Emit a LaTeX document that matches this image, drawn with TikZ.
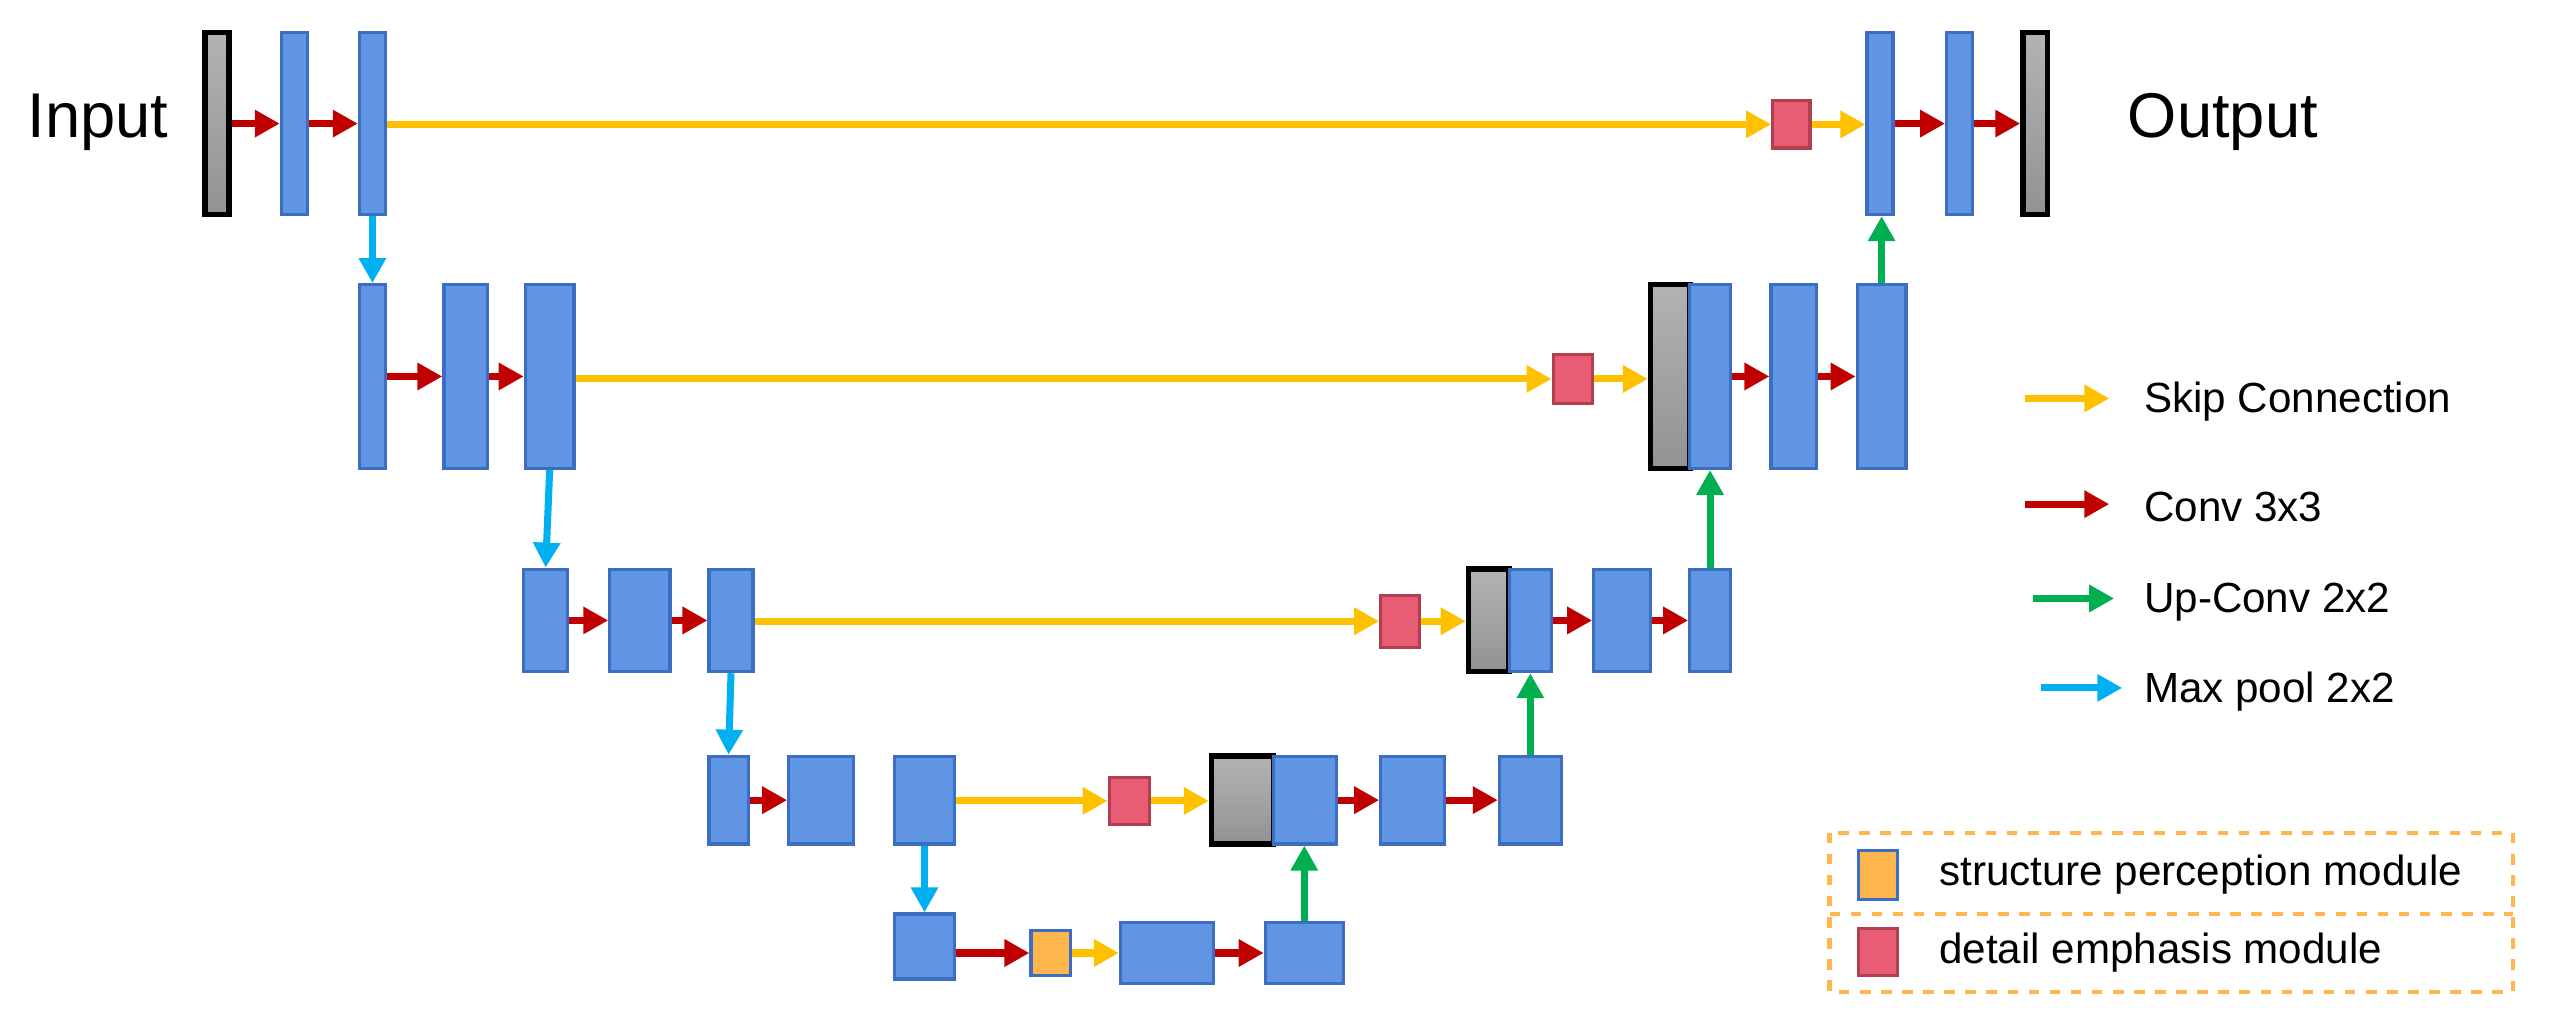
\documentclass[tikz,border=0pt]{standalone}
\usepackage{fontspec}
\setmainfont{Liberation Sans}
\usetikzlibrary{fit,arrows.meta}
\definecolor{bl}{HTML}{5F95E3}
\definecolor{blb}{HTML}{3B6EC2}
\definecolor{pk}{HTML}{E85C74}
\definecolor{pkb}{HTML}{B0404F}
\definecolor{og}{HTML}{FFB74D}
\definecolor{ylw}{HTML}{FFC000}
\definecolor{rd}{HTML}{C00000}
\definecolor{gn}{HTML}{00B050}
\definecolor{cy}{HTML}{00B0F0}
\tikzset{
 blk/.style={draw=blb,fill=bl,inner sep=0pt,line width=0.9pt},
 gry/.style={draw=black,top color=gray!60,bottom color=gray!85,inner sep=0pt,line width=1.6pt},
 pnk/.style={draw=pkb,fill=pk,inner sep=0pt,line width=0.9pt},
 org/.style={draw=blb,fill=og,inner sep=0pt,line width=0.9pt},
 arr/.style={line width=2pt,-{Triangle[length=0.25cm,width=0.26cm]}},
 skip/.style={arr,draw=ylw},
 conv/.style={arr,draw=rd},
 up/.style={arr,draw=gn},
 pool/.style={arr,draw=cy},
 lbl/.style={font=\fontsize{12pt}{14pt}\selectfont,anchor=west,inner sep=0pt},
}
\newcommand\B[6]{\node[#6,fit={(#2,-#3)(#4,-#5)}] (#1) {};}
\begin{document}
\begin{tikzpicture}[x=0.01626cm,y=0.01626cm]
\useasboundingbox (0,0) rectangle (1568,-628);
% level 1
\B{in}{126}{20}{141}{132}{gry}
\B{a1}{173}{20}{189}{132}{blk}
\B{a2}{221}{20}{237}{132}{blk}
\B{p1}{1090}{62}{1113}{91}{pnk}
\B{r1}{1148}{20}{1164}{132}{blk}
\B{r2}{1197}{20}{1213}{132}{blk}
\B{out}{1244}{20}{1259}{132}{gry}
\node[font=\fontsize{18pt}{20pt}\selectfont,anchor=east,inner sep=0pt] (tin) at (104,-75) {Input};
\node[font=\fontsize{18pt}{20pt}\selectfont,anchor=west,inner sep=0pt] (tout) at (1308,-75) {Output};
% level 2
\B{b1}{221}{175}{237}{288}{blk}
\B{b2}{273}{175}{300}{288}{blk}
\B{b3}{323}{175}{353}{288}{blk}
\B{p2}{955}{218}{979}{248}{pnk}
\B{g2}{1015}{175}{1039}{288}{gry}
\B{s1}{1039}{175}{1064}{288}{blk}
\B{s2}{1089}{175}{1117}{288}{blk}
\B{s3}{1142}{175}{1172}{288}{blk}
% level 3
\B{c1}{322}{350}{349}{413}{blk}
\B{c2}{375}{350}{412}{413}{blk}
\B{c3}{436}{350}{463}{413}{blk}
\B{p3}{849}{366}{873}{398}{pnk}
\B{g3}{903}{350}{928}{413}{gry}
\B{t1}{928}{350}{954}{413}{blk}
\B{t2}{980}{350}{1015}{413}{blk}
\B{t3}{1039}{350}{1064}{413}{blk}
% level 4
\B{d1}{436}{465}{460}{519}{blk}
\B{d2}{485}{465}{525}{519}{blk}
\B{d3}{550}{465}{587}{519}{blk}
\B{p4}{682}{478}{707}{507}{pnk}
\B{g4}{745}{465}{783}{519}{gry}
\B{u1}{783}{465}{822}{519}{blk}
\B{u2}{849}{465}{888}{519}{blk}
\B{u3}{922}{465}{960}{519}{blk}
% level 5
\B{e1}{550}{562}{587}{602}{blk}
\B{o5}{634}{572}{658}{600}{org}
\B{e2}{689}{567}{746}{605}{blk}
\B{e3}{778}{567}{826}{605}{blk}
% conv arrows
\draw[conv] (in.east) -- (in.east -| a1.west);
\draw[conv] (a1.east) -- (a1.east -| a2.west);
\draw[conv] (r1.east) -- (r1.east -| r2.west);
\draw[conv] (r2.east) -- (r2.east -| out.west);
\draw[conv] (b1.east) -- (b1.east -| b2.west);
\draw[conv] (b2.east) -- (b2.east -| b3.west);
\draw[conv] (s1.east) -- (s1.east -| s2.west);
\draw[conv] (s2.east) -- (s2.east -| s3.west);
\draw[conv] (c1.east) -- (c1.east -| c2.west);
\draw[conv] (c2.east) -- (c2.east -| c3.west);
\draw[conv] (t1.east) -- (t1.east -| t2.west);
\draw[conv] (t2.east) -- (t2.east -| t3.west);
\draw[conv] (d1.east) -- (d1.east -| d2.west);
\draw[conv] (u1.east) -- (u1.east -| u2.west);
\draw[conv] (u2.east) -- (u2.east -| u3.west);
\draw[conv] (e1.east |- o5.west) -- (o5.west);
\draw[conv] (e2.east) -- (e2.east -| e3.west);
% skip
\draw[skip] (a2.east |- p1.west) -- (p1.west);
\draw[skip] (p1.east) -- (p1.east -| r1.west);
\draw[skip] (b3.east |- p2.west) -- (p2.west);
\draw[skip] (p2.east) -- (p2.east -| g2.west);
\draw[skip] (c3.east |- p3.west) -- (p3.west);
\draw[skip] (p3.east) -- (p3.east -| g3.west);
\draw[skip] (d3.east |- p4.west) -- (p4.west);
\draw[skip] (p4.east) -- (p4.east -| g4.west);
\draw[skip] (o5.east) -- (o5.east -| e2.west);
% pool
\draw[pool] (a2.south) -- (a2.south |- b1.north);
\draw[pool] (b3.south) -- (c1.north);
\draw[pool] (c3.south) -- (d1.north);
\draw[pool] (d3.south) -- (d3.south |- e1.north);
% up
\draw[up] (e3.north) -- (e3.north |- u1.south);
\draw[up] (u3.north) -- (u3.north |- t3.south);
\draw[up] (t3.north) -- (t3.north |- s1.south);
\draw[up] (s3.north) -- (s3.north |- r1.south);
% legend
\coordinate (l1) at (1245,-245); \coordinate (l1e) at (1297,-245);
\coordinate (l2) at (1245,-310); \coordinate (l2e) at (1297,-310);
\coordinate (l3) at (1250,-368); \coordinate (l3e) at (1300,-368);
\coordinate (l4) at (1255,-423); \coordinate (l4e) at (1305,-423);
\draw[skip] (l1) -- (l1e); \node[lbl] (k1) at (1318,-247) {Skip Connection};
\draw[conv] (l2) -- (l2e); \node[lbl] (k2) at (1318,-312) {Conv 3x3};
\draw[up] (l3) -- (l3e); \node[lbl] (k3) at (1318,-370) {Up-Conv 2x2};
\draw[pool] (l4) -- (l4e); \node[lbl] (k4) at (1318,-425) {Max pool 2x2};
\draw[og,dashed,line width=1.2pt] (1125,-512) rectangle (1545,-610);
\draw[og,dashed,line width=1.2pt] (1125,-562) -- (1545,-562);
\B{lo}{1143}{523}{1167}{553}{org}
\B{lp}{1143}{571}{1167}{600}{pnk}
\node[lbl] (k5) at (1192,-538) {structure perception module};
\node[lbl] (k6) at (1192,-586) {detail emphasis module};
\end{tikzpicture}
\end{document}
